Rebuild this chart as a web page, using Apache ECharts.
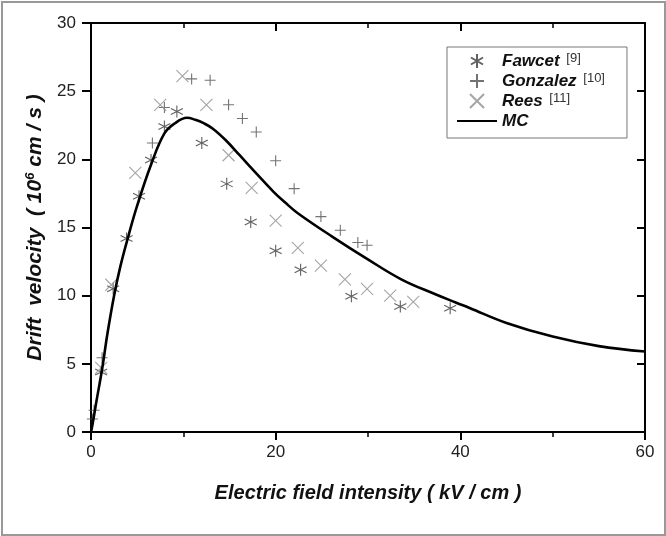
<!DOCTYPE html>
<html>
<head>
<meta charset="utf-8">
<script src="https://cdn.jsdelivr.net/npm/echarts@6/dist/echarts.min.js"></script>
<style>
html,body{margin:0;padding:0;background:#fff;}
#c{width:666px;height:536px;}
</style>
</head>
<body>
<div id="c"></div>
<script>
// ---- data ----
const xTicks = [0, 20, 40, 60];
const yTicks = [0, 5, 10, 15, 20, 25, 30];
const fawcetX = [1.1, 2.4, 3.85, 5.2, 6.5, 7.95, 9.3, 12.0, 14.7, 17.3, 20.0, 22.7, 28.2, 33.5, 38.9];
const fawcetY = [4.4, 10.5, 14.2, 17.3, 19.95, 22.4, 23.5, 21.2, 18.2, 15.4, 13.3, 11.9, 9.95, 9.2, 9.07];
const gonzalezX = [0.15, 0.33, 1.2, 6.65, 7.95, 10.9, 12.9, 14.9, 16.4, 17.9, 20.0, 22.0, 24.9, 27.0, 28.9, 29.9];
const gonzalezY = [0.95, 1.6, 5.45, 21.2, 23.8, 25.9, 25.8, 24.0, 23.0, 22.0, 19.9, 17.85, 15.8, 14.8, 13.9, 13.7];
const reesX = [1.1, 2.2, 4.8, 7.5, 9.9, 12.5, 14.9, 17.4, 20.0, 22.4, 24.9, 27.5, 29.9, 32.4, 34.9];
const reesY = [4.7, 10.8, 19.0, 24.0, 26.1, 24.0, 20.3, 17.9, 15.5, 13.5, 12.2, 11.2, 10.5, 10.0, 9.55];
const mcX = [0, 0.15, 0.6, 1.2, 1.8, 2.5, 3.2, 4.1, 5.0, 6.5, 7.95, 9.1, 10.4, 11.3, 12.2, 13.2, 14.6, 16.1, 18.0, 19.8, 21.0, 22.4, 26.2, 29.9, 33.6, 37.3, 39.5, 41, 45, 50, 55, 60];
const mcY = [0, 0.5, 2.3, 4.6, 7.3, 10.0, 12.2, 14.5, 16.6, 19.6, 21.9, 22.65, 23.05, 22.9, 22.65, 22.25, 21.4, 20.3, 18.9, 17.6, 16.85, 16.05, 14.3, 12.7, 11.2, 10.1, 9.5, 9.1, 8.0, 7.0, 6.3, 5.9];
const seriesNames = ['Fawcet', 'Gonzalez', 'Rees', 'MC'];
const refs = {Fawcet: '[9]', Gonzalez: '[10]', Rees: '[11]', MC: ''};

const zip = (xs, ys) => xs.map((x, i) => [x, ys[i]]);

const FONT = '"Liberation Sans", Arial, sans-serif';
const SYM_AST = 'path://M5,0L5,10M0.67,2.5L9.33,7.5M9.33,2.5L0.67,7.5';
const SYM_PLUS = 'path://M5,0L5,10M0,5L10,5';
const SYM_X = 'path://M0,0L10,10M10,0L0,10';

const chart = echarts.init(document.getElementById('c'), null, {renderer: 'canvas'});
const axisLineStyle = {color: '#000', width: 2};
chart.setOption({
  animation: false,
  backgroundColor: '#fff',
  graphic: [{
    type: 'rect', left: 1, top: 1, z: -1,
    shape: {x: 0, y: 0, width: 663, height: 533},
    style: {fill: '#fff', stroke: '#999', lineWidth: 2}
  }],
  grid: {left: 91, right: 21, top: 23, bottom: 104},
  legend: {
    orient: 'vertical',
    left: 447, top: 47,
    padding: [5, 22, 8, 9],
    itemWidth: 40, itemHeight: 14, itemGap: 2,
    borderColor: '#777', borderWidth: 1, backgroundColor: '#fff',
    data: [
      {name: 'Fawcet'}, {name: 'Gonzalez'}, {name: 'Rees'},
      {name: 'MC', itemStyle: {color: 'rgba(0,0,0,0)', borderWidth: 0, opacity: 0}}
    ],
    formatter: n => refs[n] ? '{n|' + n + '}  {r|' + refs[n] + '}' : '{n|' + n + '}',
    textStyle: {
      fontFamily: FONT, lineHeight: 18,
      rich: {
        n: {fontFamily: FONT, fontSize: 17, fontWeight: 'bold', fontStyle: 'italic', color: '#111', lineHeight: 18},
        r: {fontFamily: FONT, fontSize: 13, color: '#333', verticalAlign: 'top', lineHeight: 15}
      }
    }
  },
  xAxis: [{
    type: 'value', min: 0, max: 60, interval: 20, position: 'bottom',
    name: 'Electric field intensity ( kV / cm )',
    nameLocation: 'middle', nameGap: 51,
    nameTextStyle: {fontFamily: FONT, fontSize: 20, fontWeight: 'bold', fontStyle: 'italic', color: '#111'},
    axisLine: {show: true, onZero: false, lineStyle: axisLineStyle},
    axisTick: {show: true, inside: false, length: 8, lineStyle: {color: '#000', width: 2}},
    minorTick: {show: true, splitNumber: 2, length: 5, lineStyle: {color: '#000', width: 1.5}},
    axisLabel: {fontFamily: FONT, fontSize: 17, color: '#222', margin: 12},
    splitLine: {show: false}
  }, {
    type: 'value', min: 0, max: 60, interval: 20, position: 'top',
    axisLine: {show: true, onZero: false, lineStyle: axisLineStyle},
    axisTick: {show: true, inside: true, length: 8, lineStyle: {color: '#000', width: 2}},
    minorTick: {show: true, splitNumber: 2, length: 5, lineStyle: {color: '#000', width: 1.5}},
    axisLabel: {show: false},
    splitLine: {show: false}
  }],
  yAxis: [{
    type: 'value', min: 0, max: 30, interval: 5, position: 'left',
    name: '{t|Drift  velocity  ( 10}{s|6}{t| cm / s )}',
    nameLocation: 'middle', nameGap: 42, nameRotate: 90,
    nameTextStyle: {
      rich: {
        t: {fontFamily: FONT, fontSize: 21, fontWeight: 'bold', fontStyle: 'italic', color: '#111', lineHeight: 24},
        s: {fontFamily: FONT, fontSize: 13, fontWeight: 'bold', fontStyle: 'italic', color: '#111', verticalAlign: 'top', lineHeight: 14}
      }
    },
    axisLine: {show: true, onZero: false, lineStyle: axisLineStyle},
    axisTick: {show: true, inside: false, length: 9, lineStyle: {color: '#000', width: 2}},
    axisLabel: {fontFamily: FONT, fontSize: 17, color: '#222', margin: 15},
    splitLine: {show: false}
  }, {
    type: 'value', min: 0, max: 30, interval: 5, position: 'right',
    axisLine: {show: true, onZero: false, lineStyle: axisLineStyle},
    axisTick: {show: true, inside: true, length: 8, lineStyle: {color: '#000', width: 2}},
    axisLabel: {show: false},
    splitLine: {show: false}
  }],
  series: [{
    name: 'Fawcet', type: 'scatter', data: zip(fawcetX, fawcetY),
    symbol: SYM_AST, symbolSize: 12,
    itemStyle: {color: 'rgba(0,0,0,0)', borderColor: '#3a3a3a', borderWidth: 1.1}
  }, {
    name: 'Gonzalez', type: 'scatter', data: zip(gonzalezX, gonzalezY),
    symbol: SYM_PLUS, symbolSize: 11,
    itemStyle: {color: 'rgba(0,0,0,0)', borderColor: '#505050', borderWidth: 1.1}
  }, {
    name: 'Rees', type: 'scatter', data: zip(reesX, reesY),
    symbol: SYM_X, symbolSize: 12,
    itemStyle: {color: 'rgba(0,0,0,0)', borderColor: '#8e8e8e', borderWidth: 1.1}
  }, {
    name: 'MC', type: 'line', data: zip(mcX, mcY),
    showSymbol: false, symbol: 'none', smooth: 0.4,
    lineStyle: {color: '#000', width: 2.6},
    itemStyle: {color: '#000'},
    z: 5
  }]
});
</script>
</body>
</html>
